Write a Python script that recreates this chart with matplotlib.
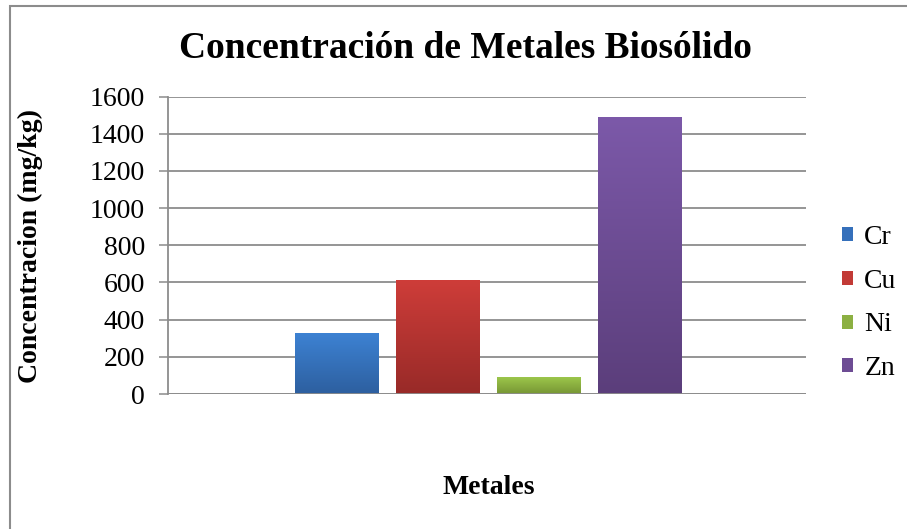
import numpy as np
import matplotlib.pyplot as plt
from matplotlib.colors import LinearSegmentedColormap
from matplotlib.patches import Patch, Rectangle

plt.rcParams['font.family'] = ['Liberation Serif', 'DejaVu Serif']

# data
metals = ['Cr', 'Cu', 'Ni', 'Zn']
values = [328, 613, 91, 1490]
yticks = [0, 200, 400, 600, 800, 1000, 1200, 1400, 1600]

# gradient colours per series (top, bottom)
tops = ['#3d82d3', '#ce3d39', '#9cc64b', '#7c59a9']
bottoms = ['#2d5f9f', '#982a28', '#779634', '#5b3e7b']
swatch = ['#3570bb', '#c23a36', '#8cb042', '#6d4c94']

fig = plt.figure(figsize=(9.07, 5.29), dpi=100)
ax = fig.add_axes([168/907, 1 - 394/529, (806 - 168)/907, (394 - 96.5)/529])

step = 101 / 638
width = 84 / 638
grad = np.linspace(1, 0, 256).reshape(-1, 1)
for i, (m, v) in enumerate(zip(metals, values)):
    x = 0.003 + (i - 1.5) * step
    bar = ax.bar(x, v, width, color=swatch[i], zorder=2)[0]
    cmap = LinearSegmentedColormap.from_list(m, [bottoms[i], tops[i]])
    im = ax.imshow(grad, cmap=cmap, extent=[x - width/2, x + width/2, 0, v],
                   aspect='auto', zorder=3, vmin=0, vmax=1, origin='upper')
    im.set_clip_path(bar)

ax.set_xlim(-0.5, 0.5)
ax.set_ylim(0, 1600)
ax.set_yticks(yticks)
ax.set_xticks([])
ax.tick_params(axis='y', labelsize=20, length=6.5, width=1.1, color='#8c8c8c', pad=10)
ax.grid(axis='y', color='#8c8c8c', linewidth=1.3, zorder=0)
ax.set_axisbelow(True)
for s in ['top', 'right', 'bottom']:
    ax.spines[s].set_visible(False)
ax.spines['left'].set_color('#8c8c8c')
ax.spines['left'].set_linewidth(1.3)
ax.axhline(0, color='#8c8c8c', linewidth=1.3, zorder=4)

fig.text(30/907, 1 - 246/529, 'Concentracion (mg/kg)', fontsize=20, fontweight='bold',
         rotation=90, ha='center', va='center')
fig.text(489/907, 1 - 488/529, 'Metales', fontsize=20, fontweight='bold', ha='center', va='center')
fig.text(465/907, 1 - 48/529, 'Concentración de Metales Biosólido', fontsize=27,
         fontweight='bold', ha='center', va='center')

handles = [Patch(facecolor=c) for c in swatch]
fig.legend(handles, metals, loc='center left', bbox_to_anchor=(842/907, 1 - 303/529),
           frameon=False, fontsize=20, handlelength=0.4, handleheight=0.4,
           handletextpad=0.4, labelspacing=0.68, borderpad=0, borderaxespad=0)

# chart border
fig.add_artist(Rectangle((10/907, -0.1), 1.2, 1 - 6/529 + 0.1, transform=fig.transFigure,
                         fill=False, edgecolor='#8c8c8c', linewidth=1.5))

fig.savefig('out.png', dpi=100)
